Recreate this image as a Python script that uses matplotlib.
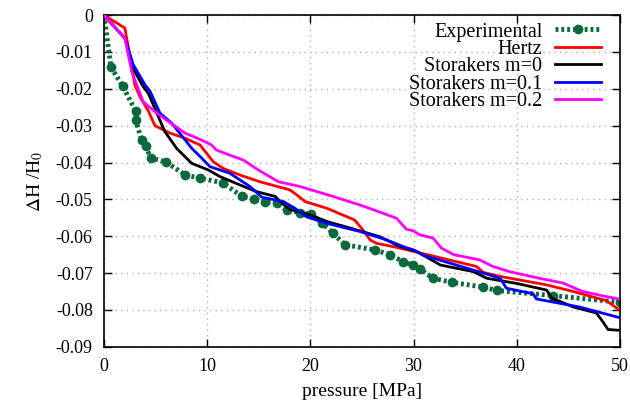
import matplotlib
matplotlib.use('Agg')
import matplotlib.pyplot as plt

# values (pressure in MPa, dH/H0)
exp_p = [0.0, 0.68, 1.8, 3.07, 3.07, 3.65, 4.03, 4.55, 5.97, 7.9, 9.3, 11.5, 13.4, 14.56,
         15.6, 16.8, 17.7, 19.0, 20.1, 21.1, 22.2, 23.35, 26.26, 27.7, 29.0, 29.96, 30.6,
         31.9, 33.7, 36.76, 38.05, 43.5, 50.0]
exp_h = [0.0, -0.0141, -0.0192, -0.026, -0.0285, -0.0339, -0.0355, -0.0388, -0.0398, -0.0434,
         -0.0442, -0.0455, -0.0492, -0.0499, -0.0506, -0.0510, -0.0528, -0.0536, -0.0540,
         -0.0563, -0.0592, -0.0623, -0.0637, -0.0650, -0.0669, -0.0679, -0.0688, -0.0714,
         -0.0725, -0.0738, -0.0747, -0.0761, -0.0779]

hertz_p = [0.0, 2.03, 3.0, 3.5, 4.3, 4.94, 6.4, 7.85, 9.3, 10.6, 11.56, 13.2, 15.1, 18.0,
           18.7, 19.5, 21.6, 24.3, 25.1, 25.8, 26.4, 28.35, 30.0, 36.1, 36.76, 38.4, 42.9,
           45.5, 48.7, 49.85]
hertz_h = [0.0, -0.0035, -0.019, -0.0222, -0.026, -0.030, -0.032, -0.0334, -0.0352, -0.0398,
           -0.0416, -0.0434, -0.0452, -0.0474, -0.0488, -0.0506, -0.0524, -0.0556, -0.0583,
           -0.061, -0.0619, -0.063, -0.0641, -0.0682, -0.0698, -0.0709, -0.0732, -0.075,
           -0.0775, -0.0798]

m0_p = [0.0, 2.03, 3.0, 3.8, 4.3, 5.9, 7.03, 8.5, 10.1, 11.24, 13.2, 14.8, 16.6, 17.2, 18.0,
        20.0, 21.6, 23.9, 26.7, 28.7, 30.3, 32.6, 35.8, 37.1, 40.0, 42.9, 43.4, 44.2, 45.5,
        47.7, 48.2, 48.85, 49.85]
m0_h = [0.0, -0.0063, -0.0154, -0.0194, -0.0212, -0.0316, -0.0361, -0.0402, -0.042, -0.0438,
        -0.0461, -0.0479, -0.0492, -0.0509, -0.0527, -0.0542, -0.056, -0.0578, -0.0601,
        -0.0628, -0.0641, -0.0678, -0.0696, -0.0714, -0.0728, -0.0746, -0.0768, -0.0777,
        -0.0792, -0.0808, -0.0826, -0.0853, -0.0855]

m01_p = [0.0, 2.03, 2.83, 4.0, 4.46, 5.43, 6.56, 8.5, 9.47, 10.27, 12.2, 14.15, 15.3, 17.4,
         18.5, 19.6, 21.6, 24.8, 27.4, 29.0, 30.0, 30.9, 35.1, 38.4, 39.0, 41.6, 41.9, 46.1,
         49.85]
m01_h = [0.0, -0.0063, -0.0134, -0.019, -0.0206, -0.0266, -0.0293, -0.0361, -0.0388, -0.0411,
         -0.0429, -0.0465, -0.0494, -0.0506, -0.0524, -0.0547, -0.0565, -0.0587, -0.061,
         -0.0628, -0.0637, -0.0651, -0.0686, -0.0714, -0.0741, -0.0756, -0.077, -0.0792,
         -0.082]

m02_p = [0.0, 2.03, 2.7, 3.8, 4.94, 6.07, 7.85, 9.47, 10.4, 10.9, 12.2, 13.5, 14.95, 16.9,
         19.0, 22.2, 24.8, 26.1, 28.35, 28.8, 29.3, 29.96, 30.6, 31.9, 32.7, 33.9, 36.4,
         37.7, 39.3, 42.2, 44.5, 46.4, 48.4, 49.85]
m02_h = [0.0, -0.0063, -0.0154, -0.0235, -0.0262, -0.0285, -0.032, -0.0339, -0.0352, -0.0366,
         -0.038, -0.0393, -0.042, -0.0452, -0.0465, -0.0492, -0.0515, -0.0528, -0.0551,
         -0.0565, -0.0581, -0.0585, -0.0596, -0.0605, -0.0632, -0.065, -0.0664, -0.0682,
         -0.0696, -0.0714, -0.0727, -0.075, -0.0762, -0.077]

plt.rcParams['font.family'] = 'Liberation Serif'
plt.rcParams['mathtext.fontset'] = 'stix'

fig = plt.figure(figsize=(6.3, 4.09), dpi=100)
ax = fig.add_axes([0.165, 0.152, 0.819, 0.811])

green = '#0b6a3c'
ax.plot(exp_p, exp_h, color=green, lw=3.5, linestyle=(0, (0.6, 0.6)),
        marker='o', ms=6, label='Experimental', zorder=2)
ax.plot(hertz_p, hertz_h, color='#ff0000', lw=2, label='Hertz', zorder=3)
ax.plot(m0_p, m0_h, color='black', lw=2, label='Storakers m=0', zorder=3)
ax.plot(m01_p, m01_h, color='#0000ff', lw=2, label='Storakers m=0.1', zorder=3)
ax.plot(m02_p, m02_h, color='#ff00ff', lw=2, label='Storakers m=0.2', zorder=3)

ax.set_xlim(0, 50)
ax.set_ylim(-0.09, 0)
ax.set_xticks([0, 10, 20, 30, 40, 50])
ax.set_yticks([0, -0.01, -0.02, -0.03, -0.04, -0.05, -0.06, -0.07, -0.08, -0.09])
ax.set_yticklabels(['0', '-0.01', '-0.02', '-0.03', '-0.04', '-0.05', '-0.06', '-0.07',
                    '-0.08', '-0.09'])
ax.tick_params(direction='in', length=6, width=1, top=True, right=True, labelsize=13, pad=8)
ax.grid(True, color='#b0b0b0', linestyle=(0, (1, 3)), linewidth=1)
for s in ax.spines.values():
    s.set_linewidth(1.2)

ax.set_xlabel('pressure [MPa]', fontsize=14, labelpad=6)
ax.set_ylabel(r'$\Delta$H /H$_0$', fontsize=14, labelpad=8)

# gnuplot style key: text right-aligned, sample on the right
leg = ax.legend(loc='upper right', bbox_to_anchor=(0.963, 0.978), frameon=False,
                markerfirst=False, fontsize=14.5, handlelength=2.3, handletextpad=0.6,
                labelspacing=-0.08, borderpad=0, borderaxespad=0)

fig.savefig('out.png', dpi=100)
